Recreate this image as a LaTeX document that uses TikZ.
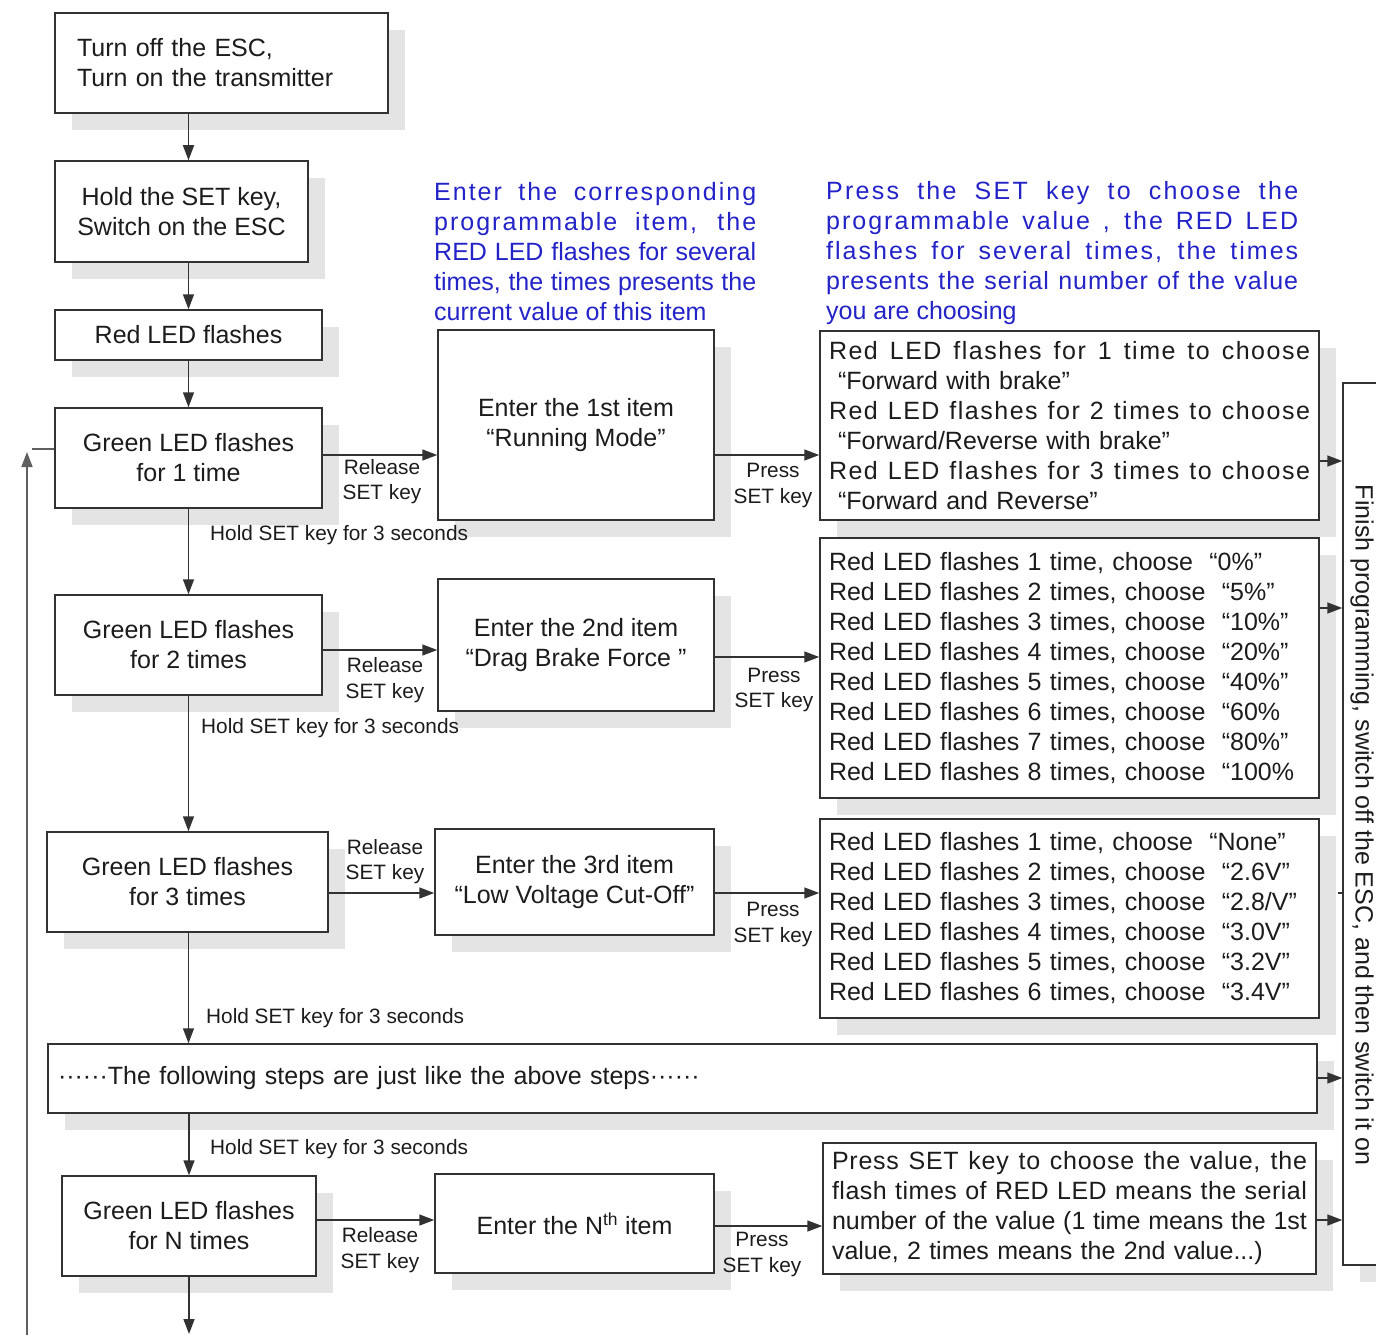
\documentclass[tikz,border=0pt]{standalone}
\usepackage{fontspec}
\setmainfont{Liberation Sans}
\usetikzlibrary{arrows.meta,shadows}
\definecolor{txt}{RGB}{28,28,28}
\definecolor{ln}{RGB}{50,50,50}
\definecolor{loopln}{RGB}{95,95,95}
\definecolor{bl}{RGB}{35,35,200}
\definecolor{shd}{RGB}{228,228,228}
\newcommand\jl[2]{\leavevmode\hbox to #1{\spaceskip=0.278em plus 1fil\relax #2}}
\newcommand\jls[3]{\leavevmode\hbox to #1{\addfontfeatures{LetterSpace=#2}\spaceskip=0.3em plus 1fil\relax #3}}
\newcommand\oq{\hspace{8pt}“}
\begin{document}
\begin{tikzpicture}[x=1pt,y=-1pt,
  box/.style={draw=ln,line width=1.5pt,fill=white,inner sep=0pt,text=txt,
    font=\fontsize{25}{30}\selectfont,align=center,
    drop shadow={shadow xshift=17pt,shadow yshift=-17pt,fill=shd,opacity=1}},
  arr/.style={draw=ln,line width=1.5pt,-{Triangle[length=15pt,width=11pt]}},
  lbl/.style={inner sep=0pt,text=txt,font=\fontsize{20.8}{25.5}\selectfont,align=center},
  bluetxt/.style={inner sep=0pt,text=bl,font=\fontsize{25}{30}\selectfont,align=left}]
\useasboundingbox (0,0) rectangle (1376,1335);
\fill[white] (0,0) rectangle (1376,1335);
\clip (0,0) rectangle (1376,1335);

% left column
\node[box,minimum width=333pt,minimum height=100pt,text width=289pt,align=left] (t1) at (221.5,63) {Turn off the ESC,\\Turn on the transmitter};
\node[box,minimum width=253pt,minimum height=101pt] (hold) at (181.5,211.5) {Hold the SET key,\\Switch on the ESC};
\node[box,minimum width=267pt,minimum height=50pt] (red) at (188.5,335) {Red LED flashes};
\node[box,minimum width=267pt,minimum height=100pt] (g1) at (188.5,458) {Green LED flashes\\for 1 time};
\node[box,minimum width=267pt,minimum height=100pt] (g2) at (188.5,645) {Green LED flashes\\for 2 times};
\node[box,minimum width=281pt,minimum height=100pt] (g3) at (187.5,882) {Green LED flashes\\for 3 times};
\node[box,minimum width=1269pt,minimum height=69pt,text width=1249pt,align=left] (follow) at (682.5,1078.5) {······The following steps are just like the above steps······};
\node[box,minimum width=254pt,minimum height=100pt] (gN) at (189,1226) {Green LED flashes\\for N times};

% middle column
\node[box,minimum width=276pt,minimum height=190pt] (e1) at (576,425) {Enter the 1st item\\“Running Mode”};
\node[box,minimum width=276pt,minimum height=132pt] (e2) at (576,645) {Enter the 2nd item\\“Drag Brake Force ”};
\node[box,minimum width=279pt,minimum height=106pt] (e3) at (574.5,882) {Enter the 3rd item\\“Low Voltage Cut-Off”};
\node[box,minimum width=279pt,minimum height=99pt] (eN) at (574.5,1223.5) {Enter the N\textsuperscript{th} item};

% value column
\node[box,minimum width=499pt,minimum height=189pt,text width=481pt,align=left] (v1) at (1069.5,425.5) {%
\jls{481pt}{6}{Red LED flashes for 1 time to choose}\\
\hspace*{9pt}“Forward with brake”\\
\jls{481pt}{6}{Red LED flashes for 2 times to choose}\\
\hspace*{9pt}“Forward/Reverse with brake”\\
\jls{481pt}{6}{Red LED flashes for 3 times to choose}\\
\hspace*{9pt}“Forward and Reverse”};
\node[box,minimum width=499pt,minimum height=260pt,text width=481pt,align=left] (v2) at (1069.5,668) {%
Red LED flashes 1 time, choose \oq0\%”\\
Red LED flashes 2 times, choose \oq5\%”\\
Red LED flashes 3 times, choose \oq10\%”\\
Red LED flashes 4 times, choose \oq20\%”\\
Red LED flashes 5 times, choose \oq40\%”\\
Red LED flashes 6 times, choose \oq60\%\\
Red LED flashes 7 times, choose \oq80\%”\\
Red LED flashes 8 times, choose \oq100\%};
\node[box,minimum width=499pt,minimum height=199pt,text width=481pt,align=left] (v3) at (1069.5,918.5) {%
Red LED flashes 1 time, choose \oq None”\\
Red LED flashes 2 times, choose \oq2.6V”\\
Red LED flashes 3 times, choose \oq2.8/V”\\
Red LED flashes 4 times, choose \oq3.0V”\\
Red LED flashes 5 times, choose \oq3.2V”\\
Red LED flashes 6 times, choose \oq3.4V”};
\node[box,minimum width=493pt,minimum height=131pt,text width=475pt,align=left] (vN) at (1069.5,1208.5) {%
\jls{475pt}{3}{Press SET key to choose the value, the}\\
\jls{475pt}{2}{flash times of RED LED means the serial}\\
\jl{475pt}{number of the value (1 time means the 1st}\\
value, 2 times means the 2nd value...)};

% finish box
\node[box,minimum width=77pt,minimum height=882pt] (fin) at (1381.5,824) {};
\node[inner sep=0pt,text=txt,font=\fontsize{25}{30}\selectfont,rotate=-90] (fint) at (1362,825) {Finish programming, switch off the ESC, and then switch it on};

% blue notes
\node[bluetxt,anchor=west] (b1) at (434,252) {%
\jls{322pt}{8}{Enter the corresponding}\\
\jls{322pt}{8}{programmable item, the}\\
\jl{322pt}{RED LED flashes for several}\\
\jl{322pt}{times, the times presents the}\\
current value of this item};
\node[bluetxt,anchor=west] (b2) at (826,253) {%
\jls{472pt}{9}{Press the SET key to choose the}\\
\jls{472pt}{8}{programmable value , the RED LED}\\
\jls{472pt}{8}{flashes for several times, the times}\\
\jls{472pt}{4}{presents the serial number of the  value}\\
you are choosing};

% vertical flow
\draw[arr] (t1.south -| red.north) -- (hold.north -| red.north);
\draw[arr] (hold.south -| red.north) -- (red.north);
\draw[arr] (red.south) -- (g1.north);
\draw[arr] (g1.south) -- (g2.north);
\draw[arr] (g2.south) -- (g3.north -| g2.south);
\draw[arr] (g3.south -| g2.south) -- (follow.north -| g2.south);
\draw[arr] (follow.south -| gN.north) -- (gN.north);
\coordinate (bot) at (189,1334);
\draw[arr] (gN.south) -- (gN.south |- bot);

\node[lbl,anchor=west] (h1) at (210,535) {Hold SET key for 3 seconds};
\node[lbl,anchor=west] (h2) at (201,728) {Hold SET key for 3 seconds};
\node[lbl,anchor=west] (h3) at (206,1018) {Hold SET key for 3 seconds};
\node[lbl,anchor=west] (h4) at (210,1149) {Hold SET key for 3 seconds};

% horizontal rows
\coordinate (r1) at (0,455);
\coordinate (r2a) at (0,650);
\coordinate (r2b) at (0,657);
\coordinate (r3) at (0,893);
\coordinate (rNa) at (0,1220);
\coordinate (rNb) at (0,1226);
\draw[arr] (g1.east |- r1) -- (e1.west |- r1);
\draw[arr] (e1.east |- r1) -- (v1.west |- r1);
\draw[arr] (g2.east |- r2a) -- (e2.west |- r2a);
\draw[arr] (e2.east |- r2b) -- (v2.west |- r2b);
\draw[arr] (g3.east |- r3) -- (e3.west |- r3);
\draw[arr] (e3.east |- r3) -- (v3.west |- r3);
\draw[arr] (gN.east |- rNa) -- (eN.west |- rNa);
\draw[arr] (eN.east |- rNb) -- (vN.west |- rNb);

\node[lbl] (l1) at (382,481.5) {Release\\SET key};
\node[lbl] (p1) at (773,485.5) {Press\\SET key};
\node[lbl] (l2) at (385,680) {Release\\SET key};
\node[lbl] (p2) at (774,690) {Press\\SET key};
\node[lbl] (l3) at (385,861.5) {Release\\SET key};
\node[lbl] (p3) at (773,924.5) {Press\\SET key};
\node[lbl] (lN) at (380,1250) {Release\\SET key};
\node[lbl] (pN) at (762,1254.5) {Press\\SET key};

% to finish box
\coordinate (f1) at (0,461);
\coordinate (f2) at (0,608);
\coordinate (f3) at (1338,893);
\coordinate (f4) at (0,1078);
\coordinate (f5) at (0,1220);
\draw[arr] (v1.east |- f1) -- (fin.west |- f1);
\draw[arr] (v2.east |- f2) -- (fin.west |- f2);
\draw[draw=ln,line width=1.2pt] (f3) -- (fin.west |- f3);
\draw[arr] (follow.east |- f4) -- (fin.west |- f4);
\draw[arr] (vN.east |- f5) -- (fin.west |- f5);

% loop back
\coordinate (lb) at (27,1335);
\coordinate (lt) at (27,452);
\coordinate (li) at (32,449);
\draw[arr,draw=loopln] (lb) -- (lt);
\draw[draw=loopln,line width=1.5pt] (li) -- (g1.west |- li);
\end{tikzpicture}
\end{document}
